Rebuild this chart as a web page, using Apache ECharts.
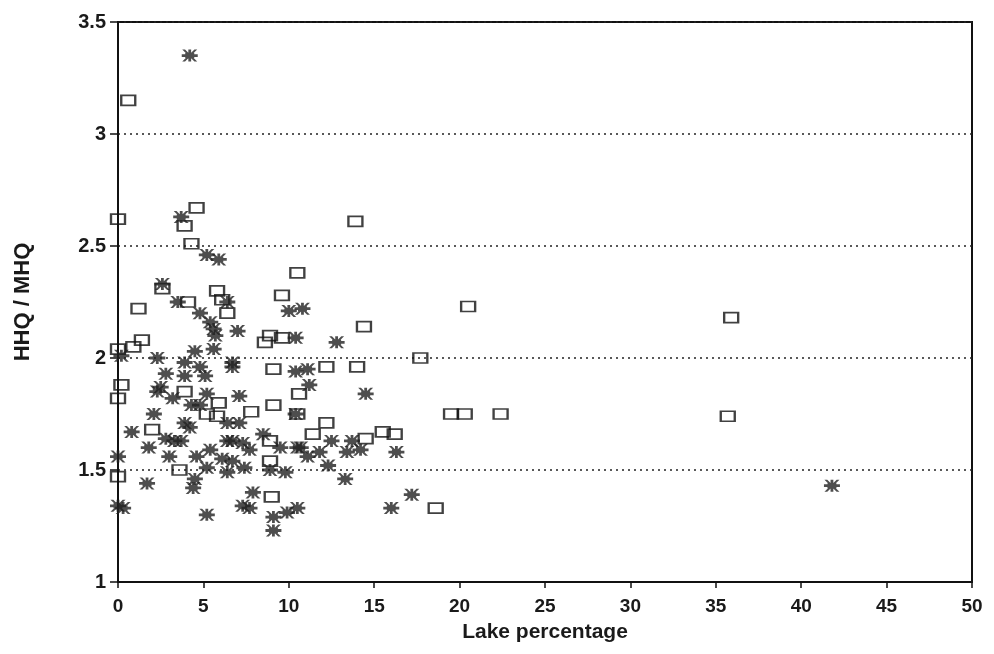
<!DOCTYPE html>
<html>
<head>
<meta charset="utf-8">
<script src="https://cdn.jsdelivr.net/npm/echarts@6/dist/echarts.min.js"></script>
<style>html,body{margin:0;padding:0;background:#fff;}#c{width:994px;height:654px;}</style>
</head>
<body>
<div id="c"></div>
<script>
const xTicks = [0, 5, 10, 15, 20, 25, 30, 35, 40, 45, 50];
const yTicks = [1, 1.5, 2, 2.5, 3, 3.5];

const squareX = [0.6, 0, 4.6, 3.9, 4.3, 13.9, 10.5, 2.6, 4.1, 5.8, 6.1, 6.4, 1.2, 9.6, 0, 0.9, 1.4, 8.6, 8.9, 9.6,
  9.1, 0.2, 0, 3.9, 10.6, 14.4, 12.2, 14.0, 17.7, 20.5, 35.9, 19.5, 20.3, 22.4, 35.7, 18.6, 5.9, 5.2, 5.8, 7.8,
  9.1, 2.0, 8.9, 8.9, 3.6, 0, 9.0, 10.5, 12.2, 11.4, 14.5, 15.5, 16.2];
const squareY = [3.15, 2.62, 2.67, 2.59, 2.51, 2.61, 2.38, 2.31, 2.25, 2.30, 2.26, 2.20, 2.22, 2.28, 2.04, 2.05, 2.08, 2.07, 2.10, 2.09,
  1.95, 1.88, 1.82, 1.85, 1.84, 2.14, 1.96, 1.96, 2.00, 2.23, 2.18, 1.75, 1.75, 1.75, 1.74, 1.33, 1.80, 1.75, 1.74, 1.76,
  1.79, 1.68, 1.63, 1.54, 1.50, 1.47, 1.38, 1.75, 1.71, 1.66, 1.64, 1.67, 1.66];

const starX = [4.2, 3.7, 5.2, 5.9, 2.6, 3.5, 4.8, 6.4, 5.4, 5.6, 5.7, 7.0, 10.0, 10.8, 10.4, 12.8, 0.2, 2.3, 4.5, 5.6,
  6.7, 3.9, 4.8, 2.8, 3.9, 5.1, 6.7, 10.4, 11.1, 11.2, 2.5, 5.2, 7.1, 14.5, 2.3, 3.2, 2.1, 4.3, 4.8, 3.9,
  4.2, 6.4, 7.1, 0.8, 2.8, 3.3, 3.7, 6.4, 6.7, 7.3, 8.5, 1.8, 3.0, 4.6, 5.4, 6.1, 6.7, 7.7, 9.5, 10.5,
  0, 5.2, 6.4, 7.4, 9.8, 4.5, 4.4, 1.7, 7.9, 7.3, 7.7, 9.1, 9.9, 10.5, 9.1, 5.2, 0, 0.3, 10.4, 12.5,
  13.7, 10.7, 11.8, 13.4, 14.2, 16.3, 11.1, 12.3, 8.9, 13.3, 16.0, 17.2, 41.8];
const starY = [3.35, 2.63, 2.46, 2.44, 2.33, 2.25, 2.20, 2.25, 2.16, 2.13, 2.10, 2.12, 2.21, 2.22, 2.09, 2.07, 2.01, 2.00, 2.03, 2.04,
  1.98, 1.98, 1.96, 1.93, 1.92, 1.92, 1.96, 1.94, 1.95, 1.88, 1.87, 1.84, 1.83, 1.84, 1.85, 1.82, 1.75, 1.79, 1.79, 1.71,
  1.69, 1.71, 1.71, 1.67, 1.64, 1.63, 1.63, 1.63, 1.63, 1.62, 1.66, 1.60, 1.56, 1.56, 1.59, 1.55, 1.54, 1.59, 1.60, 1.60,
  1.56, 1.51, 1.49, 1.51, 1.49, 1.46, 1.42, 1.44, 1.40, 1.34, 1.33, 1.29, 1.31, 1.33, 1.23, 1.30, 1.34, 1.33, 1.75, 1.63,
  1.63, 1.60, 1.58, 1.58, 1.59, 1.58, 1.56, 1.52, 1.50, 1.46, 1.33, 1.39, 1.43];

const xTitle = 'Lake percentage';
const yTitle = 'HHQ / MHQ';

const starPath = 'path://M0 4.6L16 4.6L16 7.4L0 7.4Z M6.6 0L9.4 0L9.4 12L6.6 12Z M0.5 0L3.3 0L15.5 12L12.7 12Z M12.7 0L15.5 0L3.3 12L0.5 12Z M3.5 3.5L12.5 3.5L12.5 8.5L3.5 8.5Z';

const chart = echarts.init(document.getElementById('c'), null, {renderer: 'canvas'});
const font = '"Liberation Sans", Arial, sans-serif';
chart.setOption({
  backgroundColor: '#fff',
  animation: false,
  grid: {left: 118, right: 22, top: 22, bottom: 72, show: true, borderColor: '#111', borderWidth: 2, backgroundColor: 'transparent'},
  xAxis: {
    type: 'value', min: xTicks[0], max: xTicks[xTicks.length - 1], interval: 5,
    name: xTitle, nameLocation: 'middle', nameGap: 40,
    nameTextStyle: {fontFamily: font, fontSize: 21, fontWeight: 'bold', color: '#1a1a1a'},
    axisLine: {onZero: false, lineStyle: {color: '#111', width: 2}},
    axisTick: {show: true, length: 6, lineStyle: {color: '#111', width: 1.5}},
    axisLabel: {fontFamily: font, fontSize: 19, fontWeight: 'bold', color: '#1a1a1a', margin: 15},
    splitLine: {show: false}
  },
  yAxis: {
    type: 'value', min: yTicks[0], max: yTicks[yTicks.length - 1], interval: 0.5,
    name: yTitle, nameLocation: 'middle', nameGap: 84,
    nameTextStyle: {fontFamily: font, fontSize: 22, fontWeight: 'bold', color: '#1a1a1a'},
    axisLine: {onZero: false, lineStyle: {color: '#111', width: 2}},
    axisTick: {show: true, length: 8, lineStyle: {color: '#111', width: 1.5}},
    axisLabel: {fontFamily: font, fontSize: 20, fontWeight: 'bold', color: '#1a1a1a', margin: 12},
    splitLine: {show: true, lineStyle: {color: '#222', width: 1.5, type: [2, 4]}}
  },
  series: [
    {
      type: 'scatter', name: 'squares',
      data: squareX.map((x, i) => [x, squareY[i]]),
      symbol: 'rect', symbolSize: [14, 10],
      itemStyle: {color: 'rgba(255,255,255,0)', borderColor: '#111', borderWidth: 2},
      z: 3
    },
    {
      type: 'scatter', name: 'stars',
      data: starX.map((x, i) => [x, starY[i]]),
      symbol: starPath, symbolSize: [16, 12],
      itemStyle: {color: '#222'},
      z: 4
    }
  ]
});
</script>
</body>
</html>
